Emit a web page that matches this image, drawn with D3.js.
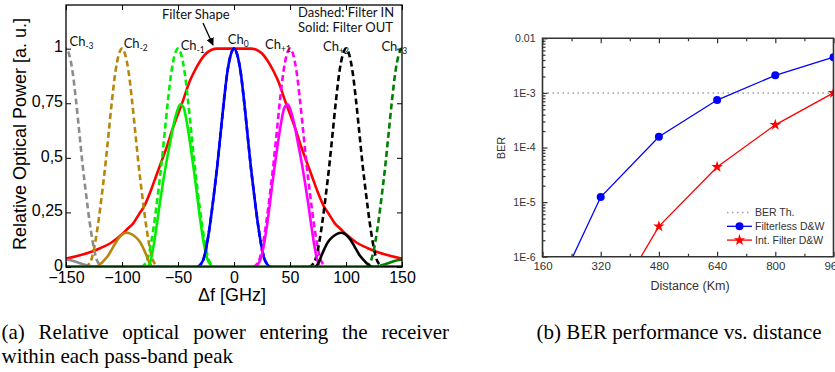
<!DOCTYPE html>
<html>
<head>
<meta charset="utf-8">
<script src="https://cdn.jsdelivr.net/npm/d3@7"></script>
<style>
  body { margin: 0; background: #fff; }
  svg { display: block; }
</style>
</head>
<body>
<svg width="835" height="372"></svg>
<script>
// ---------- (a) relative optical power ----------
const freqTicks = [-150, -100, -50, 0, 50, 100, 150]
const powerTicks = [0, 0.25, 0.5, 0.75, 1]
const powerTickLabels = ["0", "0,25", "0,5", "0,75", "1"]

const channelNames = ["-3", "-2", "-1", "0", "+1", "+2", "+3"]
const channelCenters = [-150, -100, -50, 0, 50, 100, 150]

// one channel before the filter: offset from its centre (GHz) and power
const inOffsets = [-33, -30, -27, -24, -21, -18, -15, -12, -9, -6, -3, 0, 3, 6, 9, 12, 15, 18, 21, 24, 27, 30, 33]
const inPower = [0, 0.01, 0.04, 0.11, 0.21, 0.33, 0.46, 0.61, 0.76, 0.89, 0.97, 1, 0.97, 0.89, 0.76, 0.61, 0.46, 0.33, 0.21, 0.11, 0.04, 0.01, 0]

// filter shape
const filterFreq = [-150, -140, -130, -120, -110, -100, -95, -90, -85, -80, -75, -70, -65, -60, -55, -50, -45, -40, -35, -30, -25, -20, -15, 0, 15, 20, 25, 30, 35, 40, 45, 50, 55, 60, 65, 70, 75, 80, 85, 90, 95, 100, 110, 120, 130, 140, 150]
const filterPower = [0.038, 0.05, 0.065, 0.085, 0.11, 0.15, 0.175, 0.2, 0.24, 0.28, 0.34, 0.41, 0.48, 0.55, 0.63, 0.7, 0.77, 0.845, 0.9, 0.945, 0.978, 0.995, 1, 1, 1, 0.995, 0.978, 0.945, 0.9, 0.845, 0.77, 0.7, 0.63, 0.55, 0.48, 0.41, 0.34, 0.28, 0.24, 0.2, 0.175, 0.15, 0.11, 0.085, 0.065, 0.05, 0.038]

// channels after the filter
const outFreqM3 = [-150, -145, -140, -135, -130, -126, -122, 150]
const outPowerM3 = [0.033, 0.03, 0.022, 0.013, 0.005, 0.001, 0, 0]
const outFreqM2 = [-150, -124, -120, -116, -112, -108, -104, -100, -96, -92, -88, -84, -80, -77, -75, -72, 150]
const outPowerM2 = [0, 0, 0.01, 0.03, 0.055, 0.09, 0.125, 0.148, 0.157, 0.152, 0.138, 0.115, 0.075, 0.038, 0.015, 0, 0]
const outFreqM1 = [-150, -78, -75, -72, -69, -66, -63, -60, -57, -54, -51, -48, -45, -42, -39, -36, -33, -30, -27, -24, -21, -18, 150]
const outPowerM1 = [0, 0, 0.02, 0.09, 0.19, 0.3, 0.4, 0.49, 0.57, 0.65, 0.71, 0.745, 0.73, 0.66, 0.56, 0.45, 0.33, 0.21, 0.11, 0.04, 0.01, 0, 0]
const outFreq0 = [-150, -33, -30, -27, -24, -21, -18, -15, -12, -9, -6, -3, 0, 3, 6, 9, 12, 15, 18, 21, 24, 27, 30, 33, 150]
const outPower0 = [0, 0, 0.01, 0.04, 0.11, 0.21, 0.33, 0.46, 0.61, 0.76, 0.89, 0.97, 1, 0.97, 0.89, 0.76, 0.61, 0.46, 0.33, 0.21, 0.11, 0.04, 0.01, 0, 0]
const outFreqP1 = [-150, 18, 21, 24, 27, 30, 33, 36, 39, 42, 45, 48, 51, 54, 57, 60, 63, 66, 69, 72, 75, 78, 150]
const outPowerP1 = [0, 0, 0.01, 0.04, 0.11, 0.21, 0.33, 0.45, 0.56, 0.66, 0.73, 0.745, 0.71, 0.65, 0.57, 0.49, 0.4, 0.3, 0.19, 0.09, 0.02, 0, 0]
const outFreqP2 = [-150, 72, 75, 77, 80, 84, 88, 92, 96, 100, 104, 108, 112, 116, 120, 124, 150]
const outPowerP2 = [0, 0, 0.015, 0.038, 0.075, 0.115, 0.138, 0.152, 0.157, 0.148, 0.125, 0.09, 0.055, 0.03, 0.01, 0, 0]
const outFreqP3 = [-150, 122, 126, 130, 135, 140, 145, 150]
const outPowerP3 = [0, 0, 0.001, 0.005, 0.013, 0.022, 0.03, 0.033]

// ---------- (b) BER vs distance ----------
const distTicks = [160, 320, 480, 640, 800, 960]
const berTicks = [1e-6, 1e-5, 1e-4, 1e-3, 1e-2]
const berTickLabels = ["1E-6", "1E-5", "1E-4", "1E-3", "0.01"]
const berThreshold = 1e-3
const filterlessDist = [160, 320, 480, 640, 800, 960]
const filterlessBer = [6.5e-8, 1.24e-5, 1.57e-4, 7.4e-4, 2.1e-3, 4.5e-3]
const intFilterDist = [320, 480, 640, 800, 960]
const intFilterBer = [5.6e-8, 3.6e-6, 4.4e-5, 2.6e-4, 1.0e-3]

const chColors = ["#8c8c8c", "#b8860b", "#00ee00", "#0000ff", "#ff00ff", "#000000", "#008000"]
const sans = "'Liberation Sans', Arial, sans-serif"
const calib = "Lato, 'Open Sans', sans-serif"

const svg = d3.select("svg")
svg.append("rect").attr("width", 835).attr("height", 372).attr("fill", "#fff")

// ===== left panel =====
const x = d3.scaleLinear().domain([-150, 150]).range([66, 402])
const y = d3.scaleLinear().domain([0, 1.2]).range([267, 5])

const left = svg.append("g")
svg.append("clipPath").attr("id", "clipA")
  .append("rect").attr("x", 66).attr("y", 5).attr("width", 336).attr("height", 262)

const line = d3.line().x(d => x(d[0])).y(d => y(d[1])).curve(d3.curveMonotoneX)
const curves = left.append("g").attr("clip-path", "url(#clipA)")
  .attr("fill", "none").attr("stroke-width", 2.6).attr("stroke-linejoin", "round")

curves.append("path")
  .datum(filterFreq.map((f, i) => [f, filterPower[i]]))
  .attr("stroke", "#ff0000").attr("d", line)

channelCenters.forEach((c, k) => {
  curves.append("path")
    .datum(inOffsets.map((o, i) => [c + o, inPower[i]]))
    .attr("stroke", chColors[k]).attr("stroke-dasharray", "6,3.5")
    .attr("d", line)
})

const outs = [
  [outFreqM3, outPowerM3], [outFreqM2, outPowerM2], [outFreqM1, outPowerM1],
  [outFreq0, outPower0], [outFreqP1, outPowerP1], [outFreqP2, outPowerP2], [outFreqP3, outPowerP3]
]
outs.forEach(([fs, ps], k) => {
  curves.append("path")
    .datum(fs.map((f, i) => [f, ps[i]]))
    .attr("stroke", chColors[k]).attr("d", line)
})

// frame and inward ticks
left.append("rect").attr("x", 66).attr("y", 5).attr("width", 336).attr("height", 262)
  .attr("fill", "none").attr("stroke", "#000").attr("stroke-width", 1.3)

const axB = left.append("g").attr("transform", "translate(0,267)")
  .call(d3.axisBottom(x).tickValues(freqTicks).tickSizeInner(-5).tickSizeOuter(0).tickPadding(5))
const axL = left.append("g").attr("transform", "translate(66,0)")
  .call(d3.axisLeft(y).tickValues(powerTicks).tickFormat((d, i) => powerTickLabels[i])
    .tickSizeInner(-5).tickSizeOuter(0).tickPadding(3))
left.append("g").attr("transform", "translate(0,5)")
  .call(d3.axisTop(x).tickValues(freqTicks).tickSizeInner(-5).tickSizeOuter(0).tickFormat(""))
left.append("g").attr("transform", "translate(402,0)")
  .call(d3.axisRight(y).tickValues(powerTicks).tickSizeInner(-5).tickSizeOuter(0).tickFormat(""))
left.selectAll(".domain").remove()
left.selectAll(".tick line").attr("stroke", "#000")
left.selectAll(".tick text").attr("font-family", sans).attr("font-size", 16).attr("fill", "#000")
axL.selectAll(".tick text").attr("dy", "0.2em")

left.append("text").attr("x", 232).attr("y", 301).attr("text-anchor", "middle")
  .attr("font-family", sans).attr("font-size", 18).text("Δf [GHz]")
left.append("text").attr("transform", "translate(26,134) rotate(-90)").attr("text-anchor", "middle")
  .attr("font-family", sans).attr("font-size", 18).text("Relative Optical Power [a. u.]")

// channel labels (f, power of label anchor)
const chLabelAt = [[-146.9, 1.01], [-98.5, 1.005], [-47.6, 0.995], [-5.5, 1.02], [27.7, 0.999], [79.5, 0.99], [131.6, 0.99]]
chLabelAt.forEach((p, k) => {
  const t = left.append("text").attr("x", x(p[0])).attr("y", y(p[1]))
    .attr("font-family", calib).attr("font-size", 13).attr("fill", "#111")
  t.append("tspan").text("Ch")
  t.append("tspan").attr("dy", 3).attr("font-size", 8.5).text(channelNames[k])
})

const note = left.append("g").attr("font-family", calib).attr("font-size", 13).attr("fill", "#111")
note.append("text").attr("x", 162).attr("y", 19).text("Filter Shape")
note.append("text").attr("x", 298).attr("y", 17).text("Dashed: Filter IN")
note.append("text").attr("x", 298).attr("y", 32).text("Solid: Filter OUT")

svg.append("defs").append("marker").attr("id", "arr")
  .attr("viewBox", "0 0 10 10").attr("refX", 9).attr("refY", 5)
  .attr("markerWidth", 6).attr("markerHeight", 6).attr("orient", "auto")
  .append("path").attr("d", "M0,0L10,5L0,10z").attr("fill", "#000")
left.append("line").attr("x1", 203).attr("y1", 23).attr("x2", 213).attr("y2", 45)
  .attr("stroke", "#000").attr("stroke-width", 1.3).attr("marker-end", "url(#arr)")

// ===== right panel =====
const xd = d3.scaleLinear().domain([160, 960]).range([542.5, 833.5])
const yb = d3.scaleLog().domain([1e-6, 1e-2]).range([256.7, 38.3])
const right = svg.append("g")

svg.append("clipPath").attr("id", "clipB")
  .append("rect").attr("x", 542.5).attr("y", 38.3).attr("width", 291).attr("height", 218.4)

right.append("line").attr("x1", 542.5).attr("x2", 833.5)
  .attr("y1", yb(berThreshold)).attr("y2", yb(berThreshold))
  .attr("stroke", "#a0a0a0").attr("stroke-width", 1.5).attr("stroke-dasharray", "1.5,3.5")

const bLine = d3.line().x(d => xd(d[0])).y(d => yb(d[1]))
const series = right.append("g").attr("clip-path", "url(#clipB)")
const blueData = filterlessDist.map((d, i) => [d, filterlessBer[i]])
const redData = intFilterDist.map((d, i) => [d, intFilterBer[i]])
series.append("path").datum(blueData).attr("d", bLine)
  .attr("fill", "none").attr("stroke", "#0000ff").attr("stroke-width", 1.3)
series.append("path").datum(redData).attr("d", bLine)
  .attr("fill", "none").attr("stroke", "#ff0000").attr("stroke-width", 1.3)
series.selectAll(".dot").data(blueData.filter(d => d[1] >= 1e-6)).enter()
  .append("circle").attr("cx", d => xd(d[0])).attr("cy", d => yb(d[1])).attr("r", 4)
  .attr("fill", "#0000ff")
const star = d3.symbol(d3.symbolStar, 42)
series.selectAll(".star").data(redData.filter(d => d[1] >= 1e-6)).enter()
  .append("path").attr("d", star).attr("fill", "#ff0000")
  .attr("transform", d => `translate(${xd(d[0])},${yb(d[1])})`)

// frame
right.append("path").attr("d", "M542.5,256.7V38.3H833.5V256.7Z")
  .attr("fill", "none").attr("stroke", "#333").attr("stroke-width", 1.6)

const minorBer = yb.ticks().filter(v => !berTicks.some(t => Math.abs(t - v) / t < 1e-9))
const minorDist = distTicks.slice(0, -1).map((d, i) => (d + distTicks[i + 1]) / 2)

const yAx = right.append("g").attr("transform", "translate(542.5,0)")
  .call(d3.axisLeft(yb).tickValues(berTicks).tickFormat((d, i) => berTickLabels[i])
    .tickSizeInner(-5).tickSizeOuter(0).tickPadding(7))
right.append("g").attr("transform", "translate(542.5,0)")
  .call(d3.axisLeft(yb).tickValues(minorBer).tickFormat("").tickSizeInner(-3).tickSizeOuter(0))
const xAx = right.append("g").attr("transform", "translate(0,256.7)")
  .call(d3.axisBottom(xd).tickValues(distTicks).tickSizeInner(-5).tickSizeOuter(0).tickPadding(5))
right.append("g").attr("transform", "translate(0,256.7)")
  .call(d3.axisBottom(xd).tickValues(minorDist).tickFormat("").tickSizeInner(-3).tickSizeOuter(0))
right.append("g").attr("transform", "translate(0,38.3)")
  .call(d3.axisTop(xd).tickValues(distTicks).tickFormat("").tickSizeInner(-5).tickSizeOuter(0))
right.append("g").attr("transform", "translate(0,38.3)")
  .call(d3.axisTop(xd).tickValues(minorDist).tickFormat("").tickSizeInner(-3).tickSizeOuter(0))
right.selectAll(".domain").remove()
right.selectAll(".tick line").attr("stroke", "#333").attr("stroke-width", 1.2)
yAx.selectAll("text").attr("font-size", 10.5)
xAx.selectAll("text").attr("font-size", 11.5)
right.selectAll(".tick text").attr("font-family", sans).attr("fill", "#333")

right.append("text").attr("x", 690).attr("y", 290).attr("text-anchor", "middle")
  .attr("font-family", sans).attr("font-size", 12.5).attr("fill", "#333").text("Distance (Km)")
right.append("text").attr("transform", "translate(505,148) rotate(-90)").attr("text-anchor", "middle")
  .attr("font-family", sans).attr("font-size", 11).attr("fill", "#333").text("BER")

// legend
const leg = right.append("g").attr("font-family", sans).attr("font-size", 10.5).attr("fill", "#333")
const legNames = ["BER Th.", "Filterless D&W", "Int. Filter D&W"]
legNames.forEach((name, i) => {
  const ly = 212.5 + i * 13.8
  const ln = leg.append("line").attr("x1", 727).attr("x2", 752).attr("y1", ly).attr("y2", ly)
  if (i === 0) ln.attr("stroke", "#a0a0a0").attr("stroke-width", 1.5).attr("stroke-dasharray", "1.5,3.5")
  if (i === 1) {
    ln.attr("stroke", "#0000ff").attr("stroke-width", 1.3)
    leg.append("circle").attr("cx", 739.5).attr("cy", ly).attr("r", 4).attr("fill", "#0000ff")
  }
  if (i === 2) {
    ln.attr("stroke", "#ff0000").attr("stroke-width", 1.3)
    leg.append("path").attr("d", star).attr("fill", "#ff0000").attr("transform", `translate(739.5,${ly})`)
  }
  leg.append("text").attr("x", 755).attr("y", ly + 3.8).text(name)
})

// ===== captions =====
const cap = svg.append("g").attr("font-family", "'Liberation Serif', 'Times New Roman', serif")
  .attr("font-size", 21).attr("fill", "#000")
function justify(words, x0, x1, yBase) {
  const nodes = words.map(w => cap.append("text").attr("y", yBase).text(w))
  const widths = nodes.map(n => n.node().getComputedTextLength())
  const gap = (x1 - x0 - d3.sum(widths)) / (words.length - 1)
  let cx = x0
  nodes.forEach((n, i) => { n.attr("x", cx); cx += widths[i] + gap })
}
justify("(a) Relative optical power entering the receiver".split(" "), 1.5, 449, 339)
cap.append("text").attr("x", 1.5).attr("y", 363).text("within each pass-band peak")
cap.append("text").attr("x", 536.5).attr("y", 339).text("(b) BER performance vs. distance")
</script>
</body>
</html>
